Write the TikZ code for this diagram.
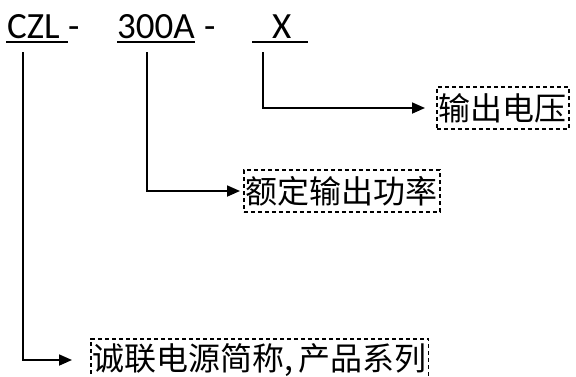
\documentclass[tikz,border=0pt]{standalone}
\usepackage{fontspec}
\setmainfont{Carlito}
\newfontfamily\cjk{Noto Sans CJK SC}
\usetikzlibrary{arrows.meta}

\begin{document}
\begin{tikzpicture}[x=1pt,y=-1pt,
	codetext/.style={anchor=base west,inner sep=0pt,font=\fontsize{37}{37}\selectfont},
	descbox/.style={draw,line width=1.5pt,dash pattern=on 4pt off 3pt,anchor=west,
		inner xsep=2pt,inner ysep=0pt,minimum height=42pt,font=\cjk\fontsize{32}{32}\selectfont},
	link/.style={line width=1.8pt,-{Triangle[length=13pt,width=11pt]}}]

	\useasboundingbox (0,0) rectangle (576,376);

	\pgfmathsetmacro{\basey}{38}
	\pgfmathsetmacro{\uly}{42}
	\pgfmathsetmacro{\topy}{52}

	% model code
	\node[codetext] (czl) at (7,\basey) {CZL};
	\node[codetext] (dasha) at (68,\basey) {-};
	\node[codetext] (pwr) at (117,\basey) {300A};
	\node[codetext] (dashb) at (204,\basey) {-};
	\node[codetext] (volt) at (272,\basey) {X};

	% underlines
	\draw[line width=1.5pt] (6,\uly) -- (68,\uly);
	\draw[line width=1.5pt] (117,\uly) -- (195,\uly);
	\draw[line width=1.5pt] (252,\uly) -- (308,\uly);

	% descriptions
	\node[descbox] (series) at (90,360) {诚联电源简称,\kern5pt产品系列};
	\node[descbox] (rating) at (243,191) {额定输出功率};
	\node[descbox] (output) at (436,108) {输出电压};

	% leaders
	\coordinate (s1) at (23,\topy);
	\coordinate (s2) at (147,\topy);
	\coordinate (s3) at (263,\topy);
	\draw[link,shorten >=18pt] (s1) |- (series.west);
	\draw[link,shorten >=3pt] (s2) |- (rating.west);
	\draw[link,shorten >=11pt] (s3) |- (output.west);

\end{tikzpicture}
\end{document}
